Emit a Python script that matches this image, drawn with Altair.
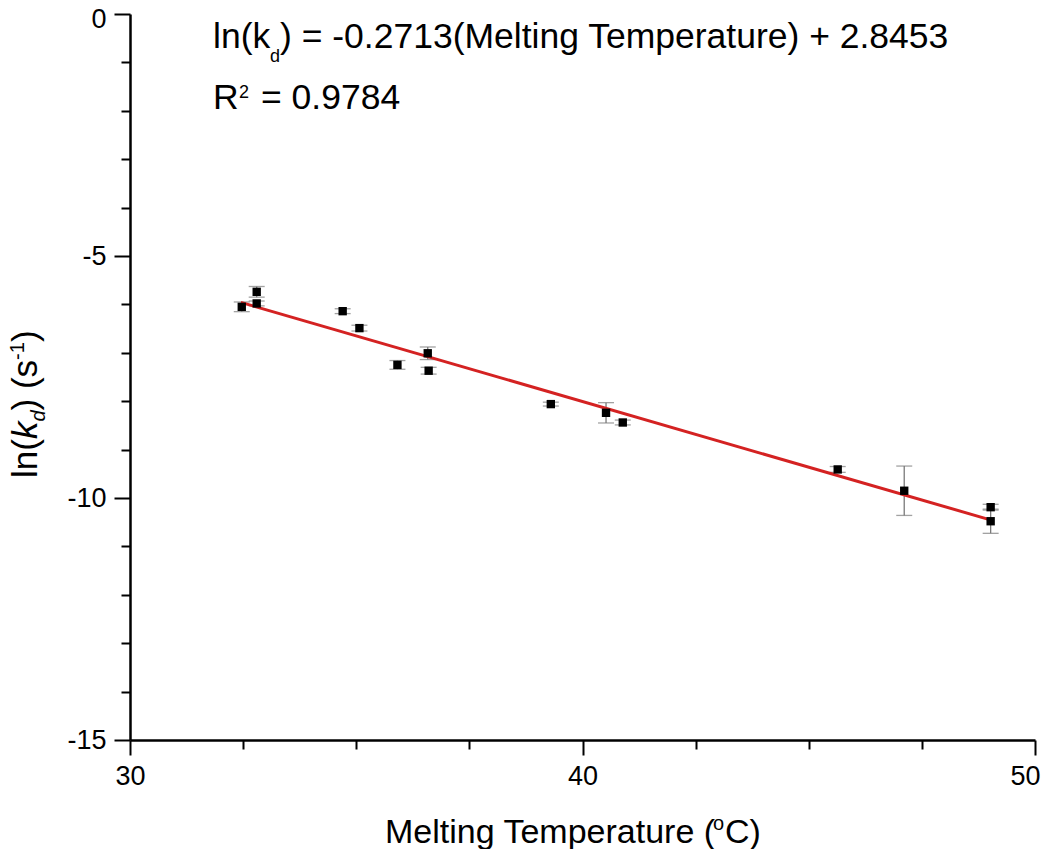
import altair as alt
import pandas as pd

melting_temp = [32.47, 32.80, 32.80, 34.70, 35.07, 35.91, 36.58, 36.60, 39.30, 40.52, 40.89, 45.64, 47.11, 49.02, 49.02]
ln_kd = [-6.05, -5.74, -5.98, -6.14, -6.49, -7.25, -7.01, -7.37, -8.06, -8.24, -8.44, -9.41, -9.85, -10.19, -10.48]
ln_kd_err = [0.10, 0.11, 0.05, 0.05, 0.06, 0.09, 0.13, 0.07, 0.04, 0.21, 0.05, 0.06, 0.51, 0.06, 0.25]

# Linear fit shown in the chart
fit_slope = -0.2713
fit_intercept = 2.8453
fit_range = [32.45, 49.05]

x_ticks = [30, 32.5, 35, 37.5, 40, 42.5, 45, 47.5, 50]
y_ticks = list(range(-15, 1))

FONT = "Liberation Sans, Arial, sans-serif"

df = pd.DataFrame({"T": melting_temp, "v": ln_kd, "e": ln_kd_err})
fit_df = pd.DataFrame({"T": fit_range})

xscale = alt.Scale(domain=[30, 50], nice=False, zero=False)
yscale = alt.Scale(domain=[-15, 0], nice=False, zero=False)

x_axis = alt.Axis(
    values=x_ticks, title=None, grid=False,
    labelExpr="datum.value % 10 == 0 ? toString(datum.value) : ''",
    tickSize={"condition": {"test": "datum.value % 10 == 0", "value": 15}, "value": 9},
    labelOffset={"condition": {"test": "datum.value == 50", "value": -10}, "value": 0},
    labelPadding=8, labelFlush=False, labelOverlap=False,
)
y_axis = alt.Axis(
    values=y_ticks, title=None, grid=False,
    labelExpr="datum.value % 5 == 0 ? toString(datum.value) : ''",
    tickSize={"condition": {"test": "datum.value % 5 == 0", "value": 16}, "value": 9},
    labelOffset={"condition": {"test": "datum.value == 0", "value": 5}, "value": 0},
    labelPadding=8, labelFlush=False, labelOverlap=False,
)

base = alt.Chart(df)

err_rule = base.mark_rule(color="#7a7a7a", strokeWidth=1.3).transform_calculate(
    lo="datum.v - datum.e", hi="datum.v + datum.e"
).encode(
    x=alt.X("T:Q", scale=xscale, axis=x_axis),
    y=alt.Y("lo:Q", scale=yscale, axis=y_axis),
    y2="hi:Q",
)

cap_lo = base.mark_tick(color="#7a7a7a", orient="horizontal", size=16, thickness=1.3).transform_calculate(
    lo="datum.v - datum.e"
).encode(x=alt.X("T:Q", scale=xscale), y=alt.Y("lo:Q", scale=yscale))

cap_hi = base.mark_tick(color="#7a7a7a", orient="horizontal", size=16, thickness=1.3).transform_calculate(
    hi="datum.v + datum.e"
).encode(x=alt.X("T:Q", scale=xscale), y=alt.Y("hi:Q", scale=yscale))

points = base.mark_square(color="black", size=70, opacity=1).encode(
    x=alt.X("T:Q", scale=xscale), y=alt.Y("v:Q", scale=yscale)
)

fit_line = alt.Chart(fit_df).mark_line(color="#d42222", strokeWidth=3).transform_calculate(
    y=f"{fit_slope} * datum.T + {fit_intercept}"
).encode(x=alt.X("T:Q", scale=xscale), y=alt.Y("y:Q", scale=yscale))


def txt(text, x, y, size, angle=0, style="normal"):
    return alt.Chart(pd.DataFrame({"t": [text]})).mark_text(
        font=FONT, fontSize=size, align="left", baseline="alphabetic",
        color="black", angle=angle, fontStyle=style,
    ).encode(text="t:N", x=alt.value(x), y=alt.value(y))


# Equation annotation
eq = [
    txt("ln(k", 83, 34, 35.5),
    txt("d", 140, 48, 18),
    txt(") = -0.2713(Melting Temperature) + 2.8453", 150, 34, 35.5),
    txt("R", 83, 95, 35.5),
    txt("2", 109, 84, 18),
    txt("= 0.9784", 131, 95, 35.5),
]

# X axis title
xt = [
    txt("Melting Temperature (", 255, 829, 34),
    txt("o", 583, 816, 20),
    txt("C)", 595, 829, 34),
]

# Y axis title (rotated pieces)
yt = [
    txt("ln(", -93, 464, 35, 270),
    txt("k", -93, 425.1, 35, 270, "italic"),
    txt("d", -85, 407.6, 20, 270, "italic"),
    txt(")", -93, 396.5, 35, 270),
    txt("(s", -93, 375.1, 35, 270),
    txt("-1", -106, 345.9, 20, 270),
    txt(")", -93, 328.1, 35, 270),
]

chart = alt.layer(err_rule, cap_lo, cap_hi, fit_line, points, *eq, *xt, *yt).properties(
    width=905, height=726,
    autosize=alt.AutoSizeParams(type="none"),
    padding={"left": 122, "top": 6, "right": 7, "bottom": 109},
).configure_view(stroke=None).configure_axis(
    domainColor="black", domainWidth=2.5, tickColor="black", tickWidth=2,
    labelFont=FONT, labelFontSize=27, labelColor="black",
)

chart.save("out.html", embed_options={"renderer": "svg", "actions": False})
